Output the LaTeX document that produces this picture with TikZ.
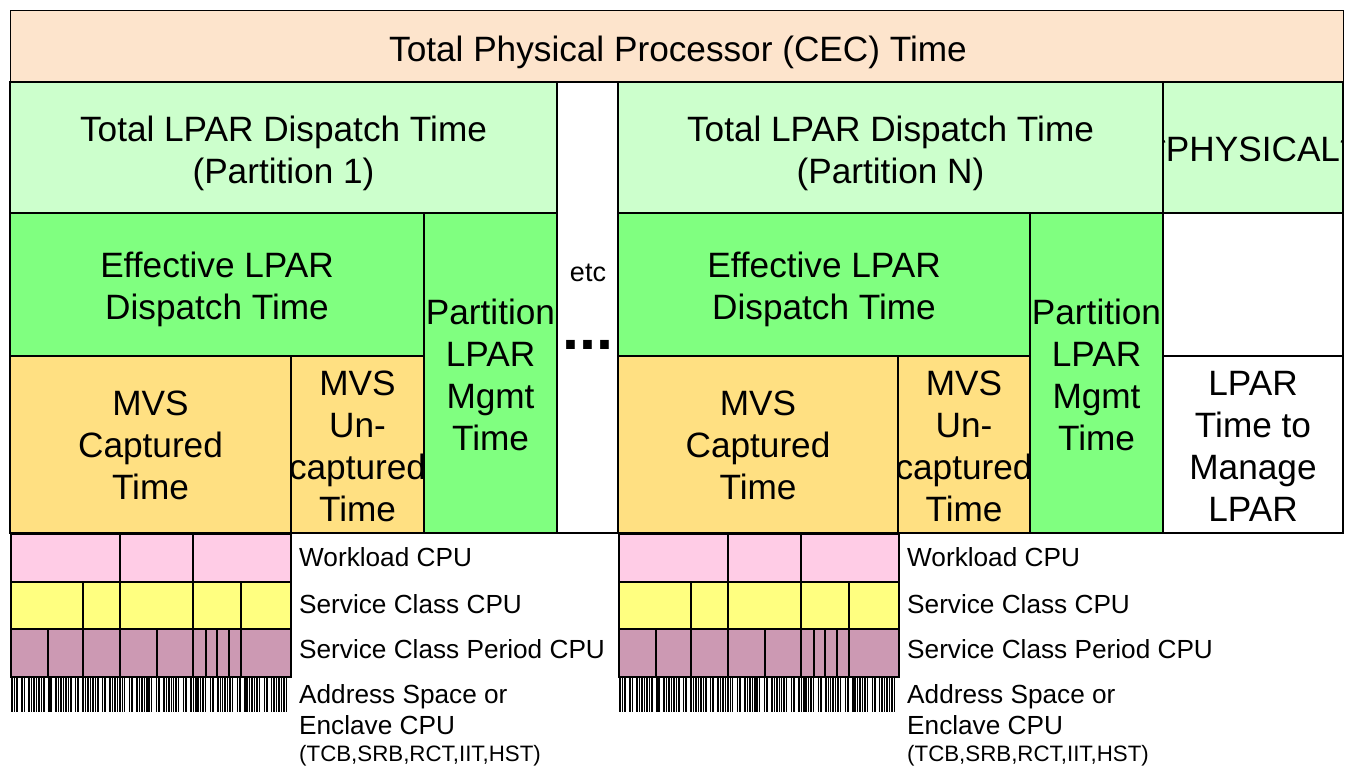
\documentclass[tikz,border=0pt]{standalone}
\usepackage{fontspec}
\setmainfont{Liberation Sans}
\definecolor{cec}{RGB}{253,228,204}
\definecolor{disp}{RGB}{204,255,204}
\definecolor{eff}{RGB}{128,255,128}
\definecolor{mvs}{RGB}{255,224,130}
\definecolor{wl}{RGB}{255,204,230}
\definecolor{svc}{RGB}{255,255,128}
\definecolor{per}{RGB}{204,153,179}
\tikzset{
	box/.style={draw=black, line width=1.5},
	big/.style={font=\fontsize{35.2}{42}\selectfont, align=center, inner sep=0},
	small/.style={font=\fontsize{26.2}{31}\selectfont, anchor=base west, inner sep=0},
	bar/.style={line width=1.5, black},
}
\begin{document}
\begin{tikzpicture}[x=1pt,y=-1pt]
	\useasboundingbox (0,0) rectangle (1346,766);
	% whole machine
	\draw[box, fill=cec, line width=1] (10,10) rectangle (1343,82);
	\node[big] (cec) at (678,52) {Total Physical Processor (CEC) Time};
	% the two partitions
	\foreach \a/\b/\c/\d/\p in {10/291/424/557/1, 618/898/1030/1163/N}{
		\draw[box, fill=disp] (\a,82) rectangle (\d,213);
		\draw[box, fill=eff] (\a,213) rectangle (\c,356);
		\draw[box, fill=eff] (\c,213) rectangle (\d,533);
		\draw[box, fill=mvs] (\a,356) rectangle (\b,533);
		\draw[box, fill=mvs] (\b,356) rectangle (\c,533);
		\node[big] (disp\p) at ({(\a+\d)/2},153) {Total LPAR Dispatch Time\\(Partition \p)};
		\node[big] (eff\p) at ({(\a+\c)/2},289) {Effective LPAR\\Dispatch Time};
		\node[big] (mgmt\p) at ({(\c+\d)/2},375) {Partition\\LPAR\\Mgmt\\Time};
		\node[big] (cap\p) at ({(\a+\b)/2},445.5) {MVS\\Captured\\Time};
		\node[big] (uncap\p) at ({(\b+\c)/2},446) {MVS\\Un-\\captured\\Time};
		% workload rows
		\begin{scope}[xshift={\a-10}]
			\draw[box, fill=wl] (11,534) rectangle (291,582);
			\foreach \x in {120,193} \draw[box] (\x,534) -- (\x,582);
			\draw[box, fill=svc] (11,582) rectangle (291,629);
			\foreach \x in {83,120,193,241} \draw[box] (\x,582) -- (\x,629);
			\draw[box, fill=per] (11,629) rectangle (291,677);
			\foreach \x in {48,83,120,157,193,206,217,229,241} \draw[box] (\x,629) -- (\x,677);
			\foreach \k in {0,...,113}{
				\pgfmathtruncatemacro\on{mod(\k*7+2,11)>1}
				\ifnum\on=1 \draw[bar] (12+2.45*\k,677) -- (12+2.45*\k,712);\fi
			}
		\end{scope}
		\node[small] (wl\p) at (\a+289,566) {Workload CPU};
		\node[small] (svc\p) at (\a+289,613) {Service Class CPU};
		\node[small] (per\p) at (\a+289,658) {Service Class Period CPU};
		\node[small] (as\p) at (\a+289,703) {Address Space or};
		\node[small] (enc\p) at (\a+289,734) {Enclave CPU};
		\node[small, font=\fontsize{22.3}{26}\selectfont] (tcb\p) at (\a+289,761) {(TCB,SRB,RCT,IIT,HST)};
	}
	% etc gap
	\draw[box, fill=white] (557,82) rectangle (618,533);
	\node[font=\fontsize{27}{32}\selectfont] (etc) at (588,273) {etc};
	\node[font=\fontsize{61}{61}\selectfont\bfseries, inner sep=0] (dots) at (588,345) {...};
	% physical
	\draw[box, fill=disp] (1163,82) rectangle (1343,213);
	\begin{scope}
		\clip (1163,82) rectangle (1343,213);
		\node[big] (phys) at (1253,149) {*PHYSICAL*};
	\end{scope}
	\draw[box, fill=white] (1163,213) rectangle (1343,356);
	\draw[box, fill=white] (1163,356) rectangle (1343,533);
	\node[big] (lpar) at (1253,446) {LPAR\\Time to\\Manage\\LPAR};
\end{tikzpicture}
\end{document}
